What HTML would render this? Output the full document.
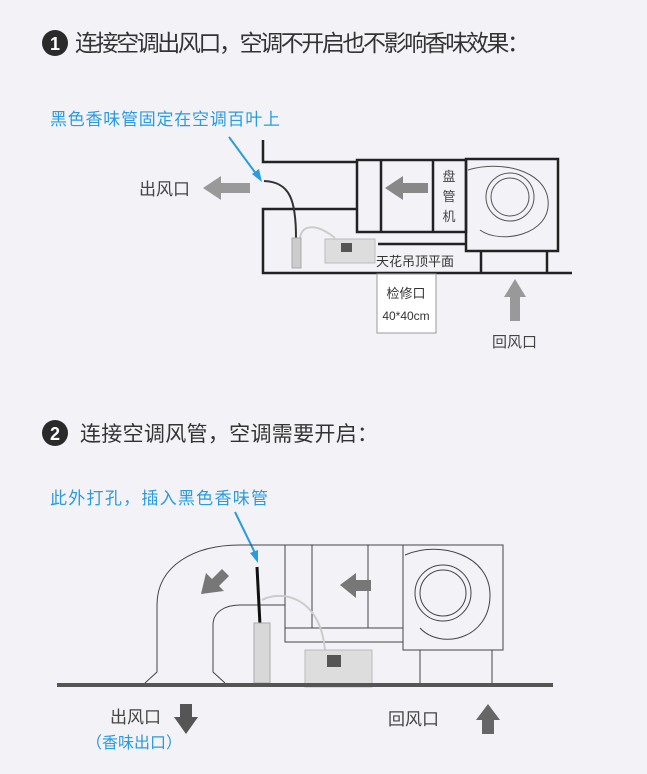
<!DOCTYPE html>
<html><head><meta charset="utf-8"><style>
html,body{margin:0;padding:0;background:#f3f3f7;}
svg{display:block;}
text{font-family:"Liberation Sans","Noto Sans CJK SC",sans-serif;}
</style></head><body>
<svg width="647" height="774" viewBox="0 0 647 774" xmlns="http://www.w3.org/2000/svg">
<rect width="647" height="774" fill="#f3f3f7"/>
<circle cx="55" cy="43" r="13" fill="#2a2a2a"/>
<text x="55" y="50" font-size="18" fill="#fff" text-anchor="middle" font-weight="bold">1</text>
<text x="75" y="51" font-size="23" fill="#333" textLength="455">连接空调出风口，空调不开启也不影响香味效果：</text>

<text x="50" y="125" font-size="17" fill="#2a9be0" textLength="230">黑色香味管固定在空调百叶上</text>
<line x1="229" y1="137" x2="257" y2="175" stroke="#2a9be0" stroke-width="2"/>
<polygon points="262,182 252,174 259,169" fill="#2a9be0"/>
<text x="139" y="195" font-size="17" fill="#444">出风口</text>
<polygon points="203,188 221,176 221,183 250,183 250,193 221,193 221,200" fill="#999"/>
<g stroke="#222" stroke-width="2.5" fill="none">
<polyline points="263,140 263,162 357,162"/>
<polyline points="357,209 263,209 263,273 572,273"/>
<rect x="357" y="160" width="109" height="72"/>
<line x1="381" y1="160" x2="381" y2="232"/>
<line x1="433" y1="160" x2="433" y2="232"/>
<rect x="466" y="159" width="92" height="92"/>
<line x1="378" y1="244" x2="466" y2="244"/>
<line x1="481" y1="251" x2="481" y2="273"/>
<line x1="547" y1="251" x2="547" y2="273"/>
</g>
<g stroke="#555" stroke-width="1" fill="none">
<path d="M468,170 C500,160 545,170 548,200 C552,235 500,245 480,230"/>
<circle cx="510" cy="197" r="24"/>
<circle cx="510" cy="197" r="19"/>
</g>
<polygon points="385,188 403,176 403,183 428,183 428,193 403,193 403,200" fill="#888"/>
<text x="449" y="181" font-size="13" fill="#444" text-anchor="middle">盘</text>
<text x="449" y="201" font-size="13" fill="#444" text-anchor="middle">管</text>
<text x="449" y="221" font-size="13" fill="#444" text-anchor="middle">机</text>
<path d="M264,181 C290,182 296,200 296,238" stroke="#333" stroke-width="2" fill="none"/>
<path d="M300,240 C300,225 315,222 335,238" stroke="#ccc" stroke-width="2" fill="none"/>
<rect x="292" y="238" width="9" height="30" fill="#ccc" stroke="#aaa"/>
<rect x="325" y="239" width="50" height="24" fill="#ddd" stroke="#bbb"/>
<rect x="341" y="243" width="11" height="9" fill="#555"/>
<text x="376" y="266" font-size="13" fill="#333">天花吊顶平面</text>
<rect x="377" y="274" width="59" height="59" fill="#fff" stroke="#999"/>
<text x="406" y="298" font-size="13" fill="#333" text-anchor="middle">检修口</text>
<text x="406" y="320" font-size="12" fill="#333" text-anchor="middle">40*40cm</text>
<polygon points="515,279 504,297 510,297 510,321 520,321 520,297 526,297" fill="#999"/>
<text x="492" y="347" font-size="15" fill="#444">回风口</text>

<circle cx="55" cy="433" r="13" fill="#2a2a2a"/>
<text x="55" y="440" font-size="18" fill="#fff" text-anchor="middle" font-weight="bold">2</text>
<text x="80" y="441" font-size="21" fill="#333" textLength="298">连接空调风管，空调需要开启：</text>

<text x="50" y="504" font-size="17" fill="#2a9be0" textLength="218">此外打孔，插入黑色香味管</text>
<line x1="235" y1="512" x2="256" y2="555" stroke="#2a9be0" stroke-width="2"/>
<polygon points="258,563 250,553 258,550" fill="#2a9be0"/>
<g stroke="#444" stroke-width="1" fill="none">
<path d="M145,683 L157,672 L157,605 C157,565 195,545 240,545 L285,545"/>
<path d="M225,683 L213,672 L213,625 C213,612 225,605 240,605 L285,605"/>
<rect x="285" y="545" width="118" height="97"/>
<line x1="312" y1="545" x2="312" y2="628"/>
<line x1="368" y1="545" x2="368" y2="628"/>
<line x1="285" y1="628" x2="403" y2="628"/>
<rect x="403" y="545" width="100" height="105"/>
<rect x="420" y="650" width="72" height="35"/>
<path d="M405,555 C440,540 490,555 490,595 C490,640 440,650 420,628"/>
<circle cx="443" cy="593" r="28"/>
<circle cx="443" cy="593" r="23"/>
</g>
<polygon points="201,594 206,573 212,579 222,569 229,576 219,586 224,591" fill="#777"/>
<polygon points="340,585 356,573 356,580 371,580 371,591 356,591 356,598" fill="#777"/>
<path d="M262,600 C280,590 320,595 325,650" stroke="#ccc" stroke-width="2" fill="none"/>
<line x1="257" y1="567" x2="260" y2="625" stroke="#111" stroke-width="3"/>
<rect x="254" y="623" width="16" height="60" fill="#d8d8d8" stroke="#aaa"/>
<rect x="305" y="650" width="67" height="37" fill="#ddd" stroke="#bbb"/>
<rect x="327" y="655" width="14" height="12" fill="#555"/>
<rect x="57" y="683" width="496" height="4" fill="#555"/>
<text x="110" y="723" font-size="17" fill="#444">出风口</text>
<polygon points="180,704 192,704 192,717 198,717 186,734 174,717 180,717" fill="#555"/>
<text x="86" y="748" font-size="16" fill="#2a9be0">（香味出口）</text>
<text x="388" y="725" font-size="17" fill="#444">回风口</text>
<polygon points="488,704 500,720 494,720 494,734 482,734 482,720 476,720" fill="#666"/>
</svg>
</body></html>
